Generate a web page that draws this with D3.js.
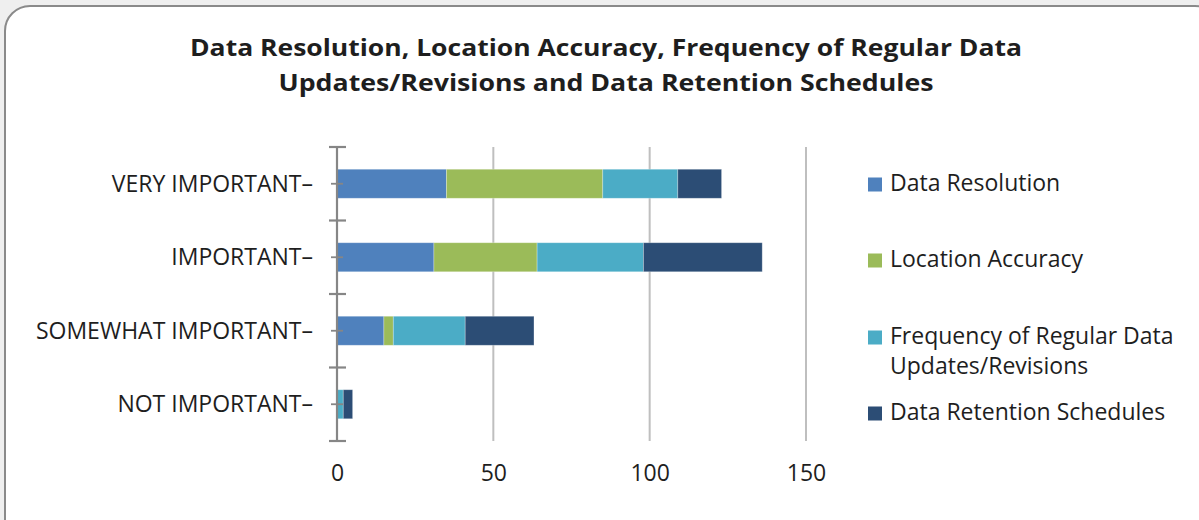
<!DOCTYPE html>
<html>
<head>
<meta charset="utf-8">
<script src="https://cdn.jsdelivr.net/npm/d3@7"></script>
<style>
  html, body { margin: 0; padding: 0; background: #efefef; }
  svg { display: block; }
  text { font-family: "Open Sans", "Noto Sans", sans-serif; fill: #1e1e1e; }
</style>
</head>
<body>
<svg id="chart" width="1199" height="520"></svg>
<script>
const categories = ["VERY IMPORTANT", "IMPORTANT", "SOMEWHAT IMPORTANT", "NOT IMPORTANT"];
const seriesNames = ["Data Resolution", "Location Accuracy", "Frequency of Regular Data Updates/Revisions", "Data Retention Schedules"];
const dataResolution   = [35, 31, 15, 0];
const locationAccuracy = [50, 33, 3, 0];
const frequencyUpdates = [24, 34, 23, 2];
const dataRetention    = [14, 38, 22, 3];
const xTicks = [0, 50, 100, 150];
const titleLines = ["Data Resolution, Location Accuracy, Frequency of Regular Data", "Updates/Revisions and Data Retention Schedules"];
const legendLines = [["Data Resolution"], ["Location Accuracy"], ["Frequency of Regular Data", "Updates/Revisions"], ["Data Retention Schedules"]];
const colors = ["#4f81bd", "#9bbb59", "#4bacc6", "#2c4d75"];

const svg = d3.select("#chart");

// frame
svg.append("rect").attr("x", 5).attr("y", 6).attr("width", 1215).attr("height", 540)
  .attr("rx", 25).attr("ry", 25).attr("fill", "#fff").attr("stroke", "#8a8a8a").attr("stroke-width", 2);

// title
const title = svg.append("g");
[[titleLines[0], 56, 832], [titleLines[1], 91, 655]].forEach(([t, y, w]) => {
  title.append("text").attr("x", 606).attr("y", y).attr("text-anchor", "middle")
    .attr("font-size", 24).attr("font-weight", "bold")
    .attr("textLength", w).attr("lengthAdjust", "spacingAndGlyphs").text(t);
});

// data table
const table = categories.map((c, i) => ({
  category: c,
  s0: dataResolution[i], s1: locationAccuracy[i], s2: frequencyUpdates[i], s3: dataRetention[i]
}));
const keys = ["s0", "s1", "s2", "s3"];
const stacked = d3.stack().keys(keys)(table);

const x = d3.scaleLinear().domain([0, 150]).range([337, 806]);
const y = d3.scaleBand().domain(categories).range([147, 441]).paddingInner(0.605).paddingOuter(0.3025);

// gridlines
svg.append("g").selectAll("line").data(xTicks.filter(d => d > 0)).join("line")
  .attr("x1", d => x(d)).attr("x2", d => x(d)).attr("y1", 147).attr("y2", 441)
  .attr("stroke", "#bfbfbf").attr("stroke-width", 2);

// bars
svg.append("g").selectAll("g").data(stacked).join("g")
  .attr("fill", (d, i) => colors[i])
  .selectAll("rect").data(d => d).join("rect")
  .attr("x", d => x(d[0])).attr("width", d => Math.max(0, x(d[1]) - x(d[0])))
  .attr("y", d => y(d.data.category)).attr("height", y.bandwidth())
  .attr("stroke", "rgba(255,255,255,0.35)").attr("stroke-width", 0.8);

// x axis labels
const xAxis = svg.append("g").attr("transform", "translate(0,441)")
  .call(d3.axisBottom(x).tickValues(xTicks).tickSize(0).tickPadding(0));
xAxis.select(".domain").remove();
xAxis.selectAll("text").attr("font-size", 23).attr("fill", "#1e1e1e")
  .attr("dy", null).attr("y", 40).style("font-family", '"Open Sans", sans-serif');

// y axis
const step = y.step();
const bounds = d3.range(categories.length + 1).map(i => 147 + i * step);
const yg = svg.append("g");
yg.append("line").attr("x1", 337).attr("x2", 337).attr("y1", 147).attr("y2", 441)
  .attr("stroke", "#868686").attr("stroke-width", 2.2);
yg.selectAll(".major").data(bounds).join("line").attr("class", "major")
  .attr("x1", 329).attr("x2", 346).attr("y1", d => d).attr("y2", d => d)
  .attr("stroke", "#868686").attr("stroke-width", 2.2);
yg.selectAll(".minor").data(categories).join("line").attr("class", "minor")
  .attr("x1", 331).attr("x2", 343)
  .attr("y1", d => y(d) + y.bandwidth() / 2).attr("y2", d => y(d) + y.bandwidth() / 2)
  .attr("stroke", "#868686").attr("stroke-width", 1.8);
yg.selectAll("text").data(categories).join("text")
  .attr("x", 313).attr("y", d => y(d) + y.bandwidth() / 2 + 8)
  .attr("text-anchor", "end").attr("font-size", 23).text(d => d + "–");

// legend
const legendBase = [191, 267, 344, 420];
const lg = svg.append("g");
legendLines.forEach((lines, i) => {
  lg.append("rect").attr("x", 868).attr("y", legendBase[i] - 13.5).attr("width", 14).attr("height", 14)
    .attr("fill", colors[i]);
  lines.forEach((t, j) => {
    lg.append("text").attr("x", 890).attr("y", legendBase[i] + j * 30).attr("font-size", 23).text(t);
  });
});
</script>
</body>
</html>
